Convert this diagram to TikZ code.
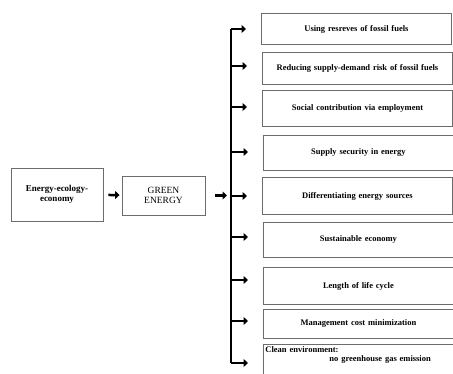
\documentclass[tikz,border=0pt]{standalone}
\usepackage{fontspec}
\setmainfont{Liberation Serif}
\usetikzlibrary{arrows.meta,positioning}

\begin{document}
\begin{tikzpicture}[x=1pt,y=-1pt]
  \tikzstyle{box}=[draw=gray!85!black,line width=0.9pt,inner sep=2pt,
                   minimum height=31pt,text width=186pt,align=center,
                   font=\fontsize{8.5}{10}\selectfont\bfseries]
  \tikzstyle{fat}=[line width=2.5pt,-{Triangle[length=4.5pt,width=8pt]}]

  \useasboundingbox (0,0) rectangle (453,374);
  \clip (0,0) rectangle (453,374);

  % left part
  \node[box,text width=88pt,minimum height=53pt,font=\fontsize{9}{10.5}\selectfont\bfseries]
       (eee) at (57,194.5) {Energy-ecology-\\economy};
  \node[box,text width=79pt,minimum height=39pt,font=\fontsize{9.5}{10.5}\selectfont]
       (green) at (163.5,195.5) {GREEN\\ENERGY};

  % right part
  \node[box,anchor=north west,minimum height=31pt] (b1) at (261,13)
       {Using resreves of fossil fuels};
  \node[box,anchor=north west,minimum height=32pt] (b2) at (262,52)
       {Reducing supply-demand risk of fossil fuels};
  \node[box,anchor=north west,minimum height=36pt] (b3) at (262,90)
       {Social contribution via employment};
  \node[box,anchor=north west,minimum height=35pt] (b4) at (263,135)
       {Supply security in energy};
  \node[box,anchor=north west,minimum height=37pt] (b5) at (262,177)
       {Differentiating energy sources};
  \node[box,anchor=north west,minimum height=35pt] (b6) at (263,222)
       {Sustainable economy};
  \node[box,anchor=north west,minimum height=37pt] (b7) at (263,267)
       {Length of life cycle};
  \node[box,anchor=north west,minimum height=29pt] (b8) at (263,309)
       {Management cost minimization};
  \node[box,anchor=north west,minimum height=0pt,align=left,text depth=30pt,
        font=\fontsize{8.5}{9.5}\selectfont\bfseries] (b9) at (263,344)
       {Clean environment:\\\hspace*{64pt}no greenhouse gas emission};

  % trunk
  \coordinate (top) at (231,29);
  \coordinate (bot) at (231,363);
  \draw[line width=1.6pt] (top) -- (bot);

  \draw[fat,shorten <=5pt,shorten >=2pt] (eee) -- (green);
  \draw[fat,shorten <=10pt,shorten >=4pt] (green.east) -- (green.east -| top);

  \foreach \b/\y in {b1/29,b2/66,b3/107,b4/152,b5/196,b6/237,b7/280,b8/321,b9/363}
    \draw[fat,shorten >=15pt] (top |- 0,\y) -- (\b.west |- 0,\y);
\end{tikzpicture}
\end{document}
